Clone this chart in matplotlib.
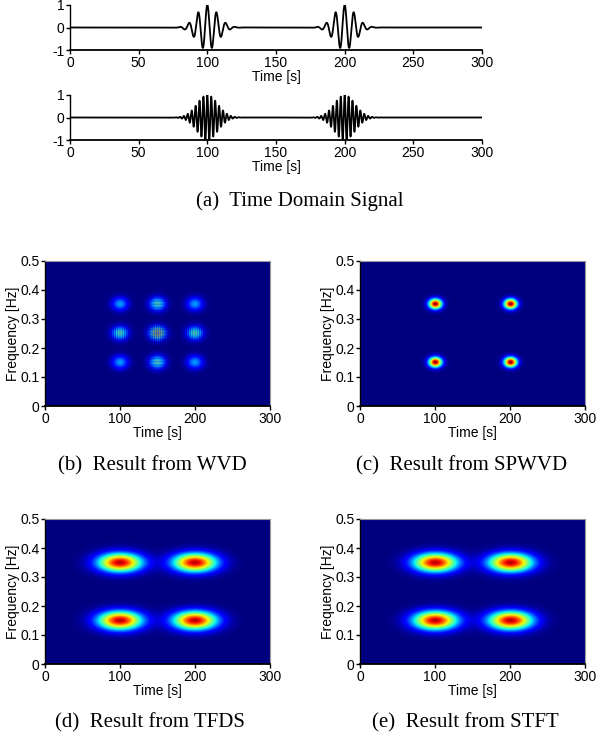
import numpy as np
import matplotlib
matplotlib.use("Agg")
import matplotlib.pyplot as plt

plt.rcParams['font.family'] = 'Liberation Sans'
plt.rcParams['font.size'] = 10
plt.rcParams['axes.unicode_minus'] = False

# signal parameters
atom_times = [100, 200]          # s
signal_freqs = [0.15, 0.35]      # Hz, top and bottom signal
env_sigma = 7.5                  # s, gaussian envelope of the atoms

# time-frequency blob sizes (sigma in time, sigma in frequency)
wvd_size = (7.5, 0.016)
spwvd_size = (6.0, 0.012)
tfds_size = (20.0, 0.022)
stft_size = (20.0, 0.022)

captions = ["(a)  Time Domain Signal", "(b)  Result from WVD", "(c)  Result from SPWVD",
            "(d)  Result from TFDS", "(e)  Result from STFT"]

t = np.arange(0, 300.01, 0.05)
tt = np.linspace(0, 300, 1201)
ff = np.linspace(0, 0.5, 501)
T, F = np.meshgrid(tt, ff)


def atom_signal(f0):
    s = np.zeros_like(t)
    for c in atom_times:
        s += np.exp(-(t - c) ** 2 / (2 * env_sigma ** 2)) * np.cos(2 * np.pi * f0 * (t - c))
    return s


def blob(tc, fc, size):
    st, sf = size
    return np.exp(-(T - tc) ** 2 / (2 * st ** 2) - (F - fc) ** 2 / (2 * sf ** 2))


def smooth_tf(size):
    img = np.zeros_like(T)
    for c in atom_times:
        for f0 in signal_freqs:
            img += blob(c, f0, size)
    return img


def wvd_tf(size):
    atoms = [(c, f0) for c in atom_times for f0 in signal_freqs]
    img = np.zeros_like(T)
    for a in atoms:
        img += blob(a[0], a[1], size)
    for i in range(len(atoms)):
        for j in range(i + 1, len(atoms)):
            tm = (atoms[i][0] + atoms[j][0]) / 2
            fm = (atoms[i][1] + atoms[j][1]) / 2
            dt = atoms[i][0] - atoms[j][0]
            df = atoms[i][1] - atoms[j][1]
            img += 2 * blob(tm, fm, size) * np.cos(2 * np.pi * (df * (T - tm) - dt * (F - fm)))
    return np.abs(img)


fig = plt.figure(figsize=(5.97, 7.39), dpi=100)
W, H = 597.0, 739.0


def add_axes(x0, x1, y0, y1):
    return fig.add_axes([x0 / W, 1 - y1 / H, (x1 - x0) / W, (y1 - y0) / H])


def style_axes(ax, gray_box):
    ax.tick_params(direction='out', length=3, width=1, pad=1, labelsize=10)
    ax.spines['left'].set_linewidth(1)
    ax.spines['bottom'].set_linewidth(1.3)
    if gray_box:
        for s in ['top', 'right']:
            ax.spines[s].set_color('#999999')
            ax.spines[s].set_linewidth(0.8)
    else:
        ax.spines['top'].set_visible(False)
        ax.spines['right'].set_visible(False)


# time domain signals
for k, (y0, y1) in enumerate([(5, 50), (95, 140)]):
    ax = add_axes(70, 482, y0, y1)
    ax.plot(t, atom_signal(signal_freqs[k]), color='black', lw=1.3)
    ax.set_xlim(0, 300)
    ax.set_ylim(-1, 1)
    ax.set_xticks(np.arange(0, 301, 50))
    ax.set_yticks([-1, 0, 1])
    ax.set_xlabel('Time [s]', labelpad=0)
    style_axes(ax, False)

fig.text(300 / W, 1 - 201 / H, captions[0], family='Liberation Serif', fontsize=15,
         ha='center', va='center')

# time-frequency images
images = [wvd_tf(wvd_size), smooth_tf(spwvd_size), smooth_tf(tfds_size), smooth_tf(stft_size)]
vmaxes = [3.6, 1.0, 1.05, 1.05]
boxes = [(45, 270, 261, 406), (360, 585, 261, 406), (45, 270, 519, 664), (360, 585, 519, 664)]
cap_pos = [(152, 466), (462, 466), (150, 723), (465, 723)]

for k in range(4):
    x0, x1, y0, y1 = boxes[k]
    ax = add_axes(x0, x1, y0, y1)
    ax.imshow(images[k], origin='lower', extent=[0, 300, 0, 0.5], aspect='auto',
              cmap='jet', vmin=0, vmax=vmaxes[k], interpolation='bilinear')
    ax.set_xticks([0, 100, 200, 300])
    ax.set_yticks([0, 0.1, 0.2, 0.3, 0.4, 0.5])
    ax.set_yticklabels(['0', '0.1', '0.2', '0.3', '0.4', '0.5'])
    ax.set_xlabel('Time [s]', labelpad=0)
    ax.set_ylabel('Frequency [Hz]', labelpad=0)
    style_axes(ax, True)
    fig.text(cap_pos[k][0] / W, 1 - cap_pos[k][1] / H, captions[k + 1],
             family='Liberation Serif', fontsize=15, ha='center', va='center')

fig.savefig('out.png', dpi=100)
